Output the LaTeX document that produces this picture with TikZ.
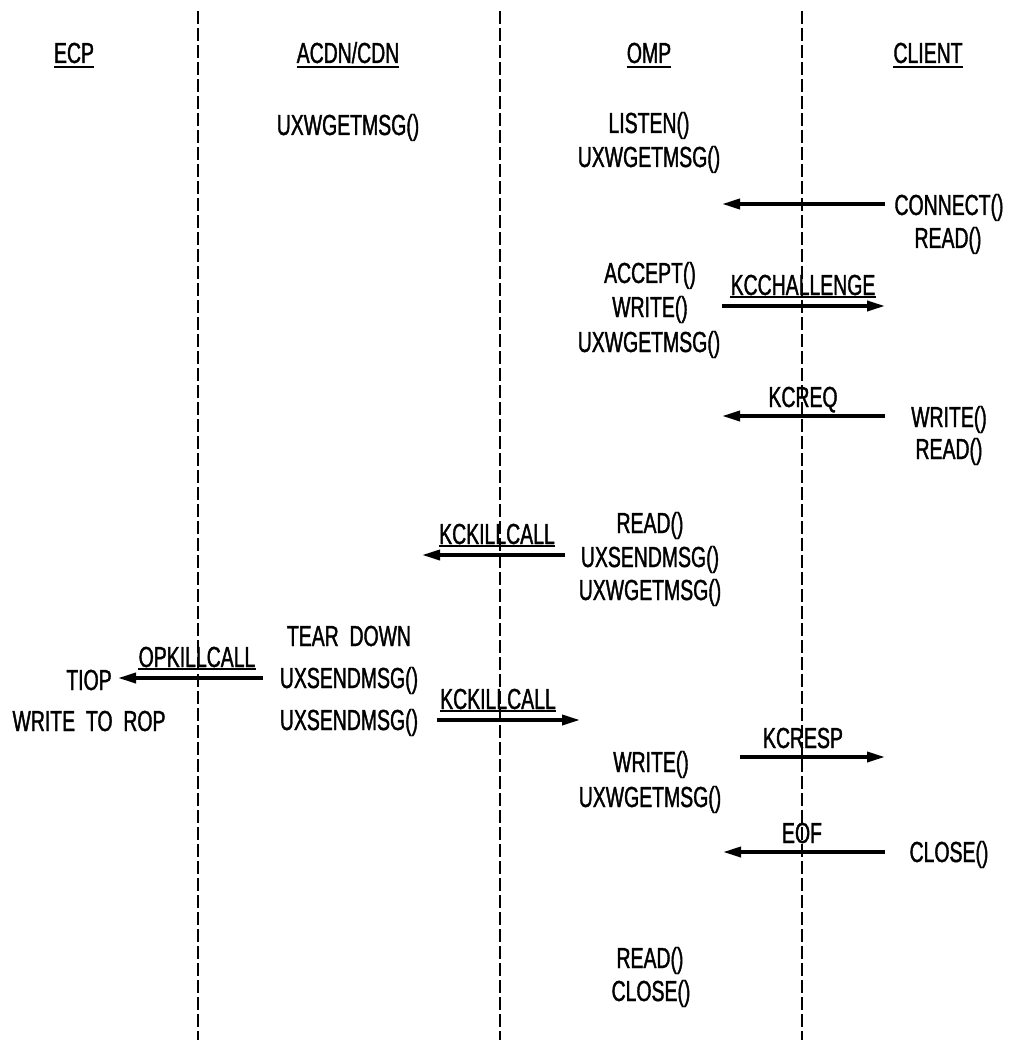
\documentclass[tikz,border=0pt]{standalone}
\usepackage{fontspec}
\setmainfont{Liberation Sans}[FakeStretch=0.67,FakeBold=1.3]
\usetikzlibrary{arrows.meta}
\begin{document}
\begin{tikzpicture}[x=1pt,y=-1pt,
  txt/.style={font=\fontsize{29}{34}\selectfont, inner sep=0pt, anchor=base},
  life/.style={line width=2pt, dash pattern=on 13pt off 4pt},
  msg/.style={line width=3.5pt, -{Triangle[length=18pt,width=10pt]}},
  uline/.style={line width=2.2pt}]
\useasboundingbox (0,0) rectangle (1010,1040);

% lifelines
\coordinate (l1t) at (198,11); \coordinate (l1b) at (198,1040);
\coordinate (l2t) at (500,11); \coordinate (l2b) at (500,1040);
\coordinate (l3t) at (802,11); \coordinate (l3b) at (802,1040);
\draw[life] (l1t) -- (l1b);
\draw[life] (l2t) -- (l2b);
\draw[life] (l3t) -- (l3b);

% headers
\node[txt] (hecp) at (74,63) {ECP};
\node[txt] (hacdn) at (348,63) {ACDN/CDN};
\node[txt] (homp) at (649,63) {OMP};
\node[txt] (hcli) at (928,63) {CLIENT};
\foreach \h in {hecp,hacdn,homp,hcli}
  \draw[uline] ([yshift=-4pt]\h.base west) -- ([yshift=-4pt]\h.base east);

% ACDN/CDN
\node[txt] (a1) at (348,135) {UXWGETMSG()};
\node[txt] (a2) at (349,646) {TEAR\ \ DOWN};
\node[txt] (a3) at (349,688) {UXSENDMSG()};
\node[txt] (a4) at (349,730) {UXSENDMSG()};

% ECP
\node[txt] (e1) at (89,690) {TIOP};
\node[txt] (e2) at (89,731) {WRITE\ \ TO\ \ ROP};

% OMP
\node[txt] (o1) at (649,133) {LISTEN()};
\node[txt] (o2) at (649,167) {UXWGETMSG()};
\node[txt] (o3) at (650,283) {ACCEPT()};
\node[txt] (o4) at (650,317) {WRITE()};
\node[txt] (o5) at (649,352) {UXWGETMSG()};
\node[txt] (o6) at (650,533) {READ()};
\node[txt] (o7) at (650,567) {UXSENDMSG()};
\node[txt] (o8) at (650,600) {UXWGETMSG()};
\node[txt] (o9) at (651,772) {WRITE()};
\node[txt] (o10) at (650,807) {UXWGETMSG()};
\node[txt] (o11) at (650,968) {READ()};
\node[txt] (o12) at (651,1001) {CLOSE()};

% CLIENT
\node[txt] (c1) at (949,215) {CONNECT()};
\node[txt] (c2) at (948,248) {READ()};
\node[txt] (c3) at (949,427) {WRITE()};
\node[txt] (c4) at (949,459) {READ()};
\node[txt] (c5) at (949,862) {CLOSE()};

% message end points
\coordinate (m1s) at (885,204); \coordinate (m1e) at (722,204);
\coordinate (m2s) at (722,306); \coordinate (m2e) at (885,306);
\coordinate (m3s) at (885,416); \coordinate (m3e) at (722,416);
\coordinate (m4s) at (565,555); \coordinate (m4e) at (422,555);
\coordinate (m5s) at (263,678); \coordinate (m5e) at (118,678);
\coordinate (m6s) at (437,720); \coordinate (m6e) at (580,720);
\coordinate (m7s) at (740,757); \coordinate (m7e) at (885,757);
\coordinate (m8s) at (885,852); \coordinate (m8e) at (723,852);

\draw[msg] (m1s) -- (m1e);
\draw[msg] (m2s) -- (m2e);
\draw[msg] (m3s) -- (m3e);
\draw[msg] (m4s) -- (m4e);
\draw[msg] (m5s) -- (m5e);
\draw[msg] (m6s) -- (m6e);
\draw[msg] (m7s) -- (m7e);
\draw[msg] (m8s) -- (m8e);

% message labels
\node[txt] (k2) at (803,295) {KCCHALLENGE};
\node[txt] (k3) at (803,407) {KCREQ};
\node[txt] (k4) at (497,544) {KCKILLCALL};
\node[txt] (k5) at (197,667) {OPKILLCALL};
\node[txt] (k6) at (498,709) {KCKILLCALL};
\node[txt] (k7) at (803,748) {KCRESP};
\node[txt] (k8) at (802,843) {EOF};
\foreach \k in {k2,k4,k5,k6}
  \draw[uline] ([yshift=-2pt]\k.base west) -- ([yshift=-2pt]\k.base east);
\end{tikzpicture}
\end{document}
